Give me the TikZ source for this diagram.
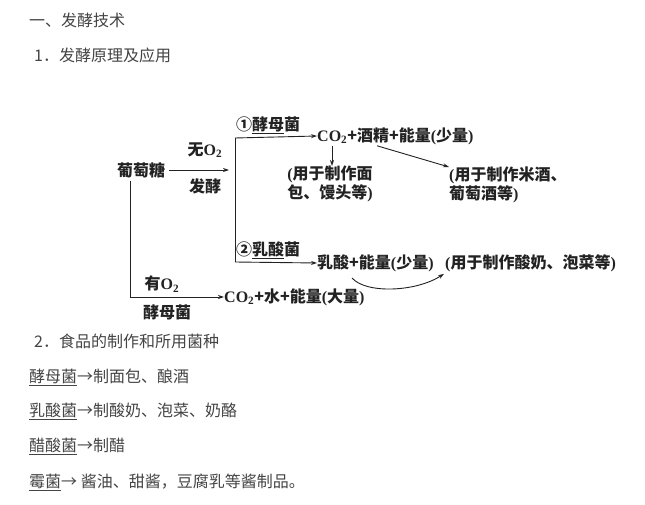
\documentclass[tikz,border=0pt]{standalone}
\usepackage{fontspec}
\setmainfont{Noto Sans CJK SC}
\newfontfamily\ser{Liberation Serif}
\usetikzlibrary{arrows.meta}
\definecolor{txtgray}{HTML}{444444}
\definecolor{dgink}{HTML}{222222}
\begin{document}
\begin{tikzpicture}[x=1pt,y=-1pt,
  hd/.style={anchor=west,inner sep=0pt,text=txtgray,font=\fontsize{16}{19}\selectfont},
  dg/.style={inner sep=0pt,text=dgink,font=\fontsize{16}{19}\selectfont\bfseries},
  ln/.style={draw=dgink,line width=0.9pt},
  arr/.style={ln,-{Stealth[length=6pt,width=4pt]}}]
\useasboundingbox[fill=white] (0,0) rectangle (645,505);

% headings
\node[hd] (h1) at (29,20) {一、发酵技术};
\node[hd] (h2) at (34,55) {1．发酵原理及应用};

% diagram
\node[dg,anchor=west] (glu) at (117,170) {葡萄糖};
\coordinate (a1) at (229,170);
\draw[arr] ([xshift=4pt]glu.east) -- (a1);
\node[dg] (noo) at (205,150) {无{\ser\bfseries O\textsubscript{2}}};
\node[dg] (fj) at (205,186) {发酵};

\coordinate (vt) at (235,138);
\coordinate (vb) at (235,262);
\draw[ln] (vt) -- (vb);

\node[dg,anchor=west] (co2) at (317,136) {{\ser\bfseries CO\textsubscript{2}}+酒精+能量{\ser\bfseries (}少量{\ser\bfseries )}};
\draw[arr] (vt) -- (co2.west);
\node[dg,anchor=west] (yeast) at (236,125) {①\underline{酵母}菌};

\node[dg,anchor=north,align=left] (bread) at (330,166) {{\ser\bfseries (}用于制作面\\包、馒头等{\ser\bfseries )}};
\draw[arr] ([xshift=15pt,yshift=-1pt]co2.south west) -- ([xshift=15pt]co2.south west |- bread.north);

\node[dg,anchor=north west,align=left] (wine) at (449,167) {{\ser\bfseries (}用于制作米酒、\\葡萄酒等{\ser\bfseries )}};
\draw[arr] ([xshift=60pt,yshift=-1pt]co2.south west) -- (wine.north west);

\node[dg,anchor=west] (lac) at (317,263) {乳酸+能量{\ser\bfseries (}少量{\ser\bfseries )}};
\draw[arr] (vb) -- (lac.west);
\node[dg,anchor=west] (lacb) at (236,250) {②\underline{乳酸}菌};
\node[dg,anchor=west] (yog) at (445,263) {{\ser\bfseries (}用于制作酸奶、泡菜等{\ser\bfseries )}};
\coordinate (c0) at (352,278);
\draw[arr] (c0) .. controls (366,294) and (416,292) .. ([xshift=-1pt,yshift=-2pt]yog.south west);

\node[dg,anchor=west] (co2b) at (224,297) {{\ser\bfseries CO\textsubscript{2}}+水+能量{\ser\bfseries (}大量{\ser\bfseries )}};
\draw[arr] ([xshift=13pt,yshift=-3pt]glu.south west) |- (co2b.west);
\node[dg] (yo) at (162,284) {有{\ser\bfseries O\textsubscript{2}}};
\node[dg] (ym) at (167,312) {酵母菌};

% section 2
\node[hd] (h3) at (34,341) {2．食品的制作和所用菌种};
\node[hd] (l1) at (29,377) {\underline{酵母菌}→制面包、酿酒};
\node[hd] (l2) at (29,411) {\underline{乳酸菌}→制酸奶、泡菜、奶酪};
\node[hd] (l3) at (29,446) {\underline{醋酸菌}→制醋};
\node[hd] (l4) at (29,482) {\underline{霉菌}→ 酱油、甜酱，豆腐乳等酱制品。};
\end{tikzpicture}
\end{document}
